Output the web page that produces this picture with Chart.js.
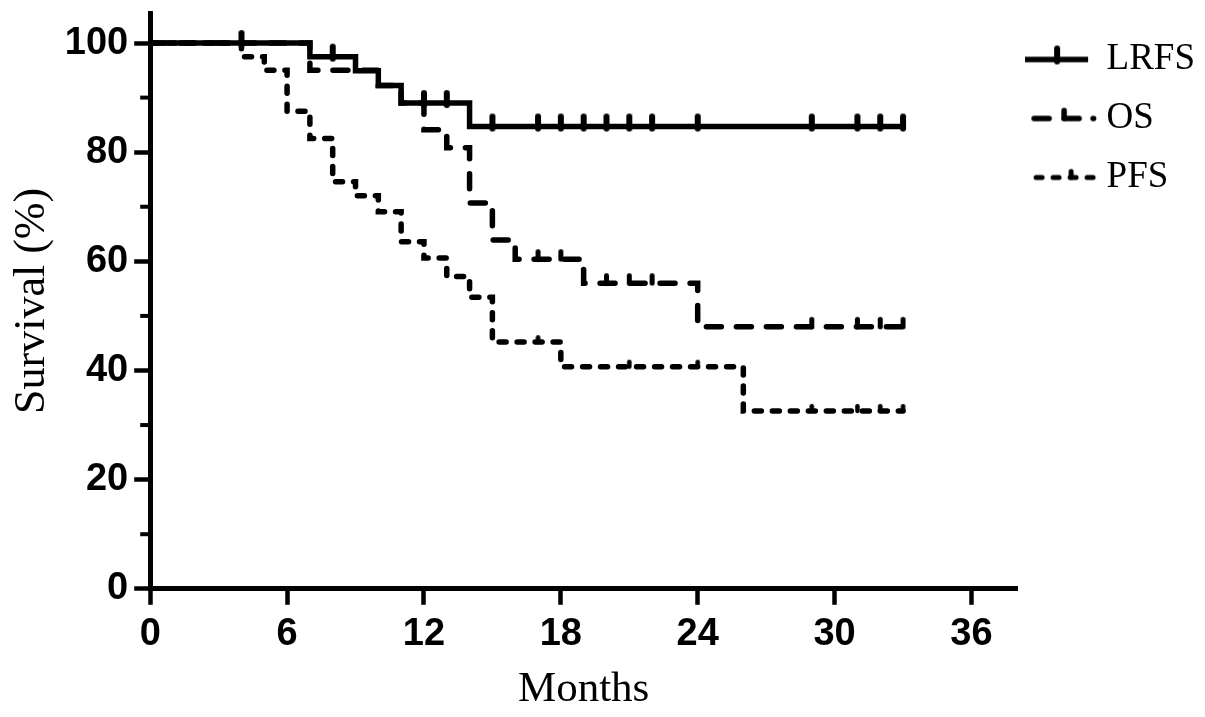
<!DOCTYPE html>
<html>
<head>
<meta charset="utf-8">
<title>Survival curves</title>
<script src="https://cdn.jsdelivr.net/npm/chart.js@4.4.1/dist/chart.umd.min.js"></script>
<style>
  html, body { margin: 0; padding: 0; background: #fff; }
  #wrap { width: 1205px; height: 717px; }
</style>
</head>
<body>
<div id="wrap"><canvas id="km" width="1205" height="717"></canvas></div>
<script>
// Kaplan-Meier steps (months, survival %)
const lrfsTime = [0, 7, 9, 10, 11, 14, 33];
const lrfsSurv = [100, 97.5, 94.9, 92.2, 89.0, 84.7, 84.7];
const lrfsCensTime = [4, 8, 12, 13, 15, 17, 18, 19, 20, 21, 22, 24, 29, 31, 32, 33];
const lrfsCensSurv = [100, 97.5, 89.0, 89.0, 84.7, 84.7, 84.7, 84.7, 84.7, 84.7, 84.7, 84.7, 84.7, 84.7, 84.7, 84.7];

const osTime = [0, 7, 10, 11, 12, 13, 14, 15, 16, 19, 24, 33];
const osSurv = [100, 95.0, 92.2, 89.0, 84.1, 80.8, 70.7, 63.9, 60.4, 56.0, 48.0, 48.0];
const osCensTime = [17, 18, 20, 21, 22, 29, 31, 32, 33];
const osCensSurv = [60.4, 60.4, 56.0, 56.0, 56.0, 48.0, 48.0, 48.0, 48.0];

const pfsTime = [0, 4, 5, 6, 7, 8, 9, 10, 11, 12, 13, 14, 15, 18, 26, 33];
const pfsSurv = [100, 97.5, 95.0, 87.5, 82.5, 74.6, 72.0, 69.1, 63.6, 60.6, 57.2, 53.4, 45.2, 40.7, 32.6, 32.6];
const pfsCensTime = [17, 21, 24, 29, 31, 32, 33];
const pfsCensSurv = [45.2, 40.7, 40.7, 32.6, 32.6, 32.6, 32.6];

const seriesNames = ['LRFS', 'OS', 'PFS'];
const xStep = 6, xMax = 38;
const yStep = 20, yMax = 105.5;
const yMinor = [10, 30, 50, 70, 90];

const pts = (t, s) => t.map((x, i) => ({ x, y: s[i] }));

/* ── censor tick marks as point images ─────────────── */
function tickImage(w, up, down) {
  const h = 2 * Math.max(up, down) + 2;
  const c = document.createElement('canvas');
  c.width = Math.ceil(w) + 4;
  c.height = h;
  const g = c.getContext('2d');
  const cx = c.width / 2, cy = h / 2;
  g.strokeStyle = '#000';
  g.lineWidth = w;
  g.lineCap = 'round';
  g.beginPath();
  g.moveTo(cx, cy - up + w / 2);
  g.lineTo(cx, cy + Math.max(down - w / 2, 0));
  g.stroke();
  return c;
}

/* ── legend samples ────────────────────────────────── */
function legendIcon(kind) {
  const c = document.createElement('canvas');
  c.width = 77; c.height = 30;
  const g = c.getContext('2d');
  const cy = 15;
  g.strokeStyle = '#000';
  g.lineCap = 'round';
  if (kind === 'LRFS') {
    g.lineWidth = 5.5;
    g.lineCap = 'butt';
    g.beginPath(); g.moveTo(0, cy); g.lineTo(63, cy); g.stroke();
    g.lineCap = 'round';
    g.lineWidth = 6;
    g.beginPath(); g.moveTo(32, cy - 11); g.lineTo(32, cy + 2); g.stroke();
  } else if (kind === 'OS') {
    g.lineWidth = 5.5;
    g.beginPath(); g.moveTo(9, cy); g.lineTo(24, cy); g.stroke();
    g.beginPath(); g.moveTo(39, cy); g.lineTo(54, cy); g.stroke();
    g.beginPath(); g.moveTo(39, cy - 8); g.lineTo(39, cy); g.stroke();
    g.beginPath(); g.moveTo(68, cy); g.lineTo(68.5, cy); g.stroke();
  } else {
    g.lineWidth = 5;
    g.setLineDash([6, 11]);
    g.beginPath(); g.moveTo(11, cy); g.lineTo(71, cy); g.stroke();
    g.setLineDash([]);
    g.beginPath(); g.moveTo(46, cy - 6); g.lineTo(46, cy); g.stroke();
  }
  return c;
}

const tickL = tickImage(6, 13, 5);
const tickO = tickImage(5, 10, 2);
const tickP = tickImage(4.5, 7, 2);
const icons = seriesNames.map(legendIcon);

const lineBase = {
  stepped: 'before',
  borderColor: '#000',
  borderWidth: 5.5,
  pointRadius: 0,
  pointHoverRadius: 0,
  fill: false,
};
const censBase = {
  showLine: false,
  pointRadius: 5,
  pointHoverRadius: 5,
  borderColor: '#000',
  backgroundColor: '#000',
};

/* ── short minor ticks on the y axis ───────────────── */
const minorTicks = {
  id: 'minorTicks',
  afterDraw(chart) {
    const y = chart.scales.y, ctx = chart.ctx, x0 = chart.chartArea.left;
    ctx.save();
    ctx.strokeStyle = '#000';
    ctx.lineWidth = 4;
    yMinor.forEach(v => {
      const py = y.getPixelForValue(v);
      ctx.beginPath();
      ctx.moveTo(x0 - 10, py);
      ctx.lineTo(x0, py);
      ctx.stroke();
    });
    ctx.restore();
  }
};

Chart.defaults.font.family = "'Liberation Sans', Arial, sans-serif";
Chart.defaults.color = '#000';

new Chart(document.getElementById('km'), {
  type: 'line',
  data: {
    datasets: [
      { ...lineBase, label: 'LRFS', data: pts(lrfsTime, lrfsSurv) },
      { ...lineBase, label: 'OS',   data: pts(osTime, osSurv),   borderDash: [15, 15], borderCapStyle: 'round' },
      { ...lineBase, label: 'PFS',  data: pts(pfsTime, pfsSurv), borderDash: [7, 11],  borderCapStyle: 'round' },
      { ...censBase, label: 'LRFS censored', data: pts(lrfsCensTime, lrfsCensSurv), pointStyle: tickL },
      { ...censBase, label: 'OS censored',   data: pts(osCensTime, osCensSurv),     pointStyle: tickO },
      { ...censBase, label: 'PFS censored',  data: pts(pfsCensTime, pfsCensSurv),   pointStyle: tickP },
    ],
  },
  options: {
    responsive: false,
    animation: false,
    events: [],
    layout: { padding: { left: 0, top: 13, right: 0, bottom: 1 } },
    scales: {
      x: {
        type: 'linear',
        min: 0,
        max: xMax,
        border: { display: true, color: '#000', width: 5 },
        grid: { drawOnChartArea: false, drawTicks: true, tickLength: 16, tickWidth: 4.5, tickColor: '#000' },
        ticks: {
          stepSize: xStep,
          includeBounds: false,
          padding: 7,
          color: '#000',
          font: { family: "'Liberation Sans', Arial, sans-serif", size: 38, weight: 'bold' },
        },
        title: {
          display: true,
          text: 'Months',
          color: '#000',
          padding: { top: 0, bottom: 0 },
          font: { family: "'Liberation Serif', 'Times New Roman', serif", size: 43, weight: 'normal' },
        },
      },
      y: {
        type: 'linear',
        min: 0,
        max: yMax,
        border: { display: true, color: '#000', width: 5 },
        grid: { drawOnChartArea: false, drawTicks: true, tickLength: 16, tickWidth: 4.5, tickColor: '#000' },
        ticks: {
          stepSize: yStep,
          includeBounds: false,
          padding: 6,
          color: '#000',
          font: { family: "'Liberation Sans', Arial, sans-serif", size: 38, weight: 'bold' },
        },
        title: {
          display: true,
          text: 'Survival (%)',
          color: '#000',
          padding: { top: 6, bottom: 0 },
          font: { family: "'Liberation Serif', 'Times New Roman', serif", size: 44, weight: 'normal' },
        },
        afterFit(scale) {
          scale.paddingTop = 0;
          scale.paddingBottom = 0;
        },
      },
    },
    plugins: {
      tooltip: { enabled: false },
      legend: {
        display: true,
        position: 'right',
        align: 'start',
        title: { display: true, text: '', font: { size: 6, lineHeight: 1 }, padding: 0 },
        labels: {
          usePointStyle: true,
          pointStyleWidth: 49,
          padding: 22,
          color: '#000',
          font: { family: "'Liberation Serif', 'Times New Roman', serif", size: 37 },
          generateLabels: () => seriesNames.map((name, i) => ({
            text: name,
            pointStyle: icons[i],
            fillStyle: '#000',
            strokeStyle: '#000',
            lineWidth: 0,
            hidden: false,
            datasetIndex: i,
          })),
        },
      },
    },
  },
  plugins: [minorTicks],
});
</script>
</body>
</html>
